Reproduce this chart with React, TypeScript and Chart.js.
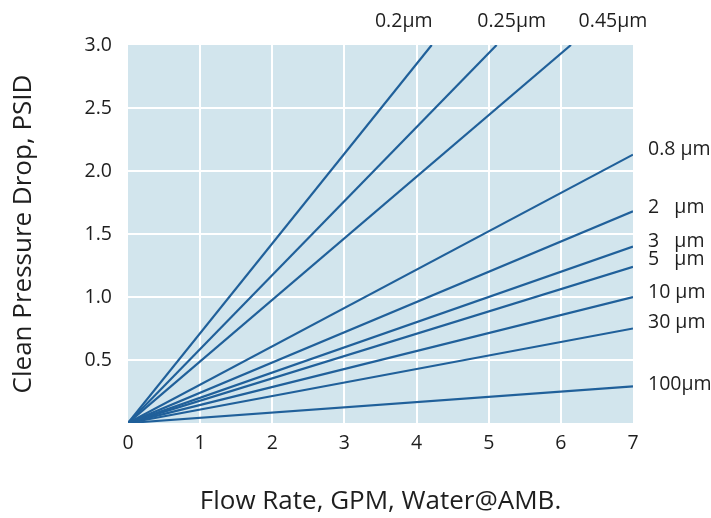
import React, { useEffect, useRef } from "react";
import { Chart, registerables } from "chart.js";

Chart.register(...registerables);

// Filter ratings (series labels)
const sizeLabels = ["0.2µm", "0.25µm", "0.45µm", "0.8 µm", "2   µm", "3   µm", "5   µm", "10 µm", "30 µm", "100µm"];
// End point of each straight line (flow GPM, pressure drop PSID); all start at (0,0)
const endFlow = [4.21, 5.11, 6.14, 7, 7, 7, 7, 7, 7, 7];
const endDrop = [3.0, 3.0, 3.0, 2.13, 1.68, 1.4, 1.24, 1.0, 0.75, 0.29];

// Axis ticks
const xTicks = [0, 1, 2, 3, 4, 5, 6, 7];
const yTicks = [0, 0.5, 1.0, 1.5, 2.0, 2.5, 3.0];

const xTitle = "Flow Rate, GPM, Water@AMB.";
const yTitle = "Clean Pressure Drop, PSID";

// label nudges (pixels) for the series annotations
const labelDx = [-28, 15, 42, 15, 15, 15, 15, 15, 15, 15];
const labelDy = [-24, -24, -24, -5, -4, -5, -7, -5, -6, -2];

const FONT = "'Open Sans', sans-serif";
const TEXT = "#1e1e1e";
const LINE = "#20609a";
const BG = "#d2e5ed";

export default function App() {
  const ref = useRef<HTMLCanvasElement>(null);

  useEffect(() => {
    if (!ref.current) return;

    const bgPlugin = {
      id: "plotBg",
      beforeDraw(chart: any) {
        const { ctx, chartArea } = chart;
        ctx.save();
        ctx.fillStyle = BG;
        ctx.fillRect(chartArea.left, chartArea.top, chartArea.right - chartArea.left, chartArea.bottom - chartArea.top);
        ctx.restore();
      },
    };

    const labelPlugin = {
      id: "seriesLabels",
      afterDraw(chart: any) {
        const { ctx, chartArea, scales } = chart;
        ctx.save();
        ctx.fillStyle = TEXT;
        ctx.font = `19.5px ${FONT}`;
        ctx.textBaseline = "middle";
        sizeLabels.forEach((lab, i) => {
          if (endDrop[i] >= 3) {
            ctx.textAlign = "center";
            const x = scales.x.getPixelForValue(endFlow[i]) + labelDx[i];
            const y = chartArea.top + labelDy[i];
            ctx.fillText(lab, x, y);
          } else {
            ctx.textAlign = "left";
            const x = chartArea.right + labelDx[i];
            const y = scales.y.getPixelForValue(endDrop[i]) + labelDy[i];
            ctx.fillText(lab, x, y);
          }
        });
        ctx.restore();
      },
    };

    const chart = new Chart(ref.current, {
      type: "line",
      data: {
        datasets: sizeLabels.map((lab, i) => ({
          label: lab,
          data: [
            { x: 0, y: 0 },
            { x: endFlow[i], y: endDrop[i] },
          ],
          borderColor: LINE,
          borderWidth: 2.2,
          pointRadius: 0,
          fill: false,
          tension: 0,
        })),
      },
      options: {
        animation: false,
        responsive: false,
        maintainAspectRatio: false,
        layout: { padding: { top: 45, right: 78, left: 0, bottom: 0 } },
        plugins: {
          legend: { display: false },
          tooltip: { enabled: false },
        },
        scales: {
          x: {
            type: "linear",
            min: xTicks[0],
            max: xTicks[xTicks.length - 1],
            afterBuildTicks: (s: any) => {
              s.ticks = xTicks.map((v) => ({ value: v }));
            },
            afterFit: (s: any) => {
              s.height = 95;
            },
            border: { display: false },
            grid: {
              color: (c: any) =>
                c.tick && (c.tick.value === xTicks[0] || c.tick.value === xTicks[xTicks.length - 1]) ? "rgba(0,0,0,0)" : "#ffffff",
              lineWidth: 2,
              drawTicks: false,
            },
            ticks: {
              color: TEXT,
              font: { family: FONT, size: 19.5 },
              padding: 9,
              maxRotation: 0,
              callback: (v: any) => String(v),
            },
            title: {
              display: true,
              text: xTitle,
              color: TEXT,
              font: { family: FONT, size: 26 },
              padding: { top: 0, bottom: 1 },
            },
          },
          y: {
            type: "linear",
            min: yTicks[0],
            max: yTicks[yTicks.length - 1],
            afterBuildTicks: (s: any) => {
              s.ticks = yTicks.map((v) => ({ value: v }));
            },
            afterFit: (s: any) => {
              s.width = 128;
            },
            border: { display: false },
            grid: {
              color: (c: any) =>
                c.tick && (c.tick.value === yTicks[0] || c.tick.value === yTicks[yTicks.length - 1]) ? "rgba(0,0,0,0)" : "#ffffff",
              lineWidth: 2,
              drawTicks: false,
            },
            ticks: {
              color: TEXT,
              font: { family: FONT, size: 19.5 },
              padding: 16,
              callback: (v: any) => (Number(v) === 0 ? "" : Number(v).toFixed(1)),
            },
            title: {
              display: true,
              text: yTitle,
              color: TEXT,
              font: { family: FONT, size: 26 },
              padding: { top: 8, bottom: 0 },
            },
          },
        },
      },
      plugins: [bgPlugin, labelPlugin],
    });

    return () => chart.destroy();
  }, []);

  return (
    <div style={{ position: "absolute", left: 0, top: 0, width: 711, height: 518, background: "#ffffff" }}>
      <canvas ref={ref} width={711} height={518} style={{ width: 711, height: 518, display: "block" }} />
    </div>
  );
}
